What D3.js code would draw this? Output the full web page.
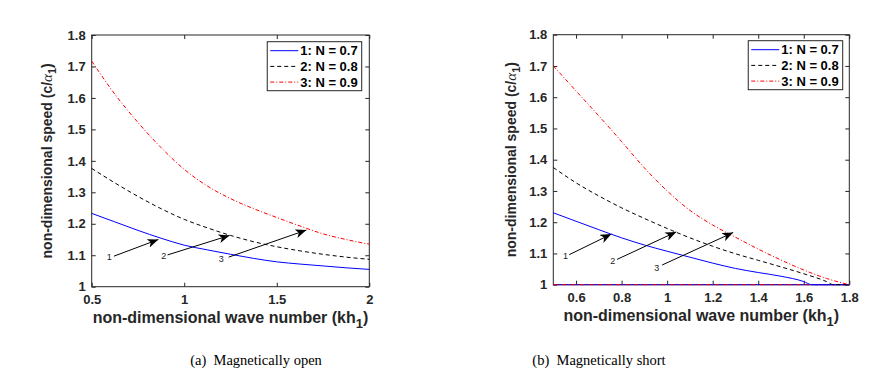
<!DOCTYPE html>
<html>
<head>
<meta charset="utf-8">
<script src="https://cdn.jsdelivr.net/npm/d3@7"></script>
<style>
  body { margin: 0; background: #fff; }
  svg { display: block; }
  .tick text { font-family: "Liberation Sans", Arial, sans-serif; font-weight: bold; font-size: 13px; fill: #262626; }
  .tick line { stroke: #262626; }
  .title { font-family: "Liberation Sans", Arial, sans-serif; font-weight: bold; fill: #262626; }
  .legend text { font-family: "Liberation Sans", Arial, sans-serif; font-weight: bold; font-size: 13px; fill: #000; }
  .caption { font-family: "Liberation Serif", "Times New Roman", serif; font-size: 14.5px; fill: #000; }
  .note { font-family: "Liberation Sans", Arial, sans-serif; font-size: 9px; fill: #222; }
</style>
</head>
<body>
<svg id="chart" width="877" height="378"></svg>
<script>
// ---- data: (a) magnetically open ----
const openX = [0.5, 0.625, 0.75, 0.875, 1.0, 1.125, 1.25, 1.375, 1.5, 1.625, 1.75, 1.875, 2.0];
const openN07 = [1.233, 1.206, 1.179, 1.154, 1.132, 1.117, 1.103, 1.090, 1.079, 1.072, 1.066, 1.060, 1.055];
const openN08 = [1.376, 1.330, 1.287, 1.248, 1.214, 1.187, 1.163, 1.143, 1.127, 1.114, 1.103, 1.094, 1.087];
const openN09 = [1.717, 1.612, 1.522, 1.442, 1.373, 1.320, 1.280, 1.248, 1.220, 1.193, 1.168, 1.150, 1.135];
const openXTicks = [0.5, 1, 1.5, 2];

// ---- data: (b) magnetically short ----
const shortX07 = [0.5, 0.6, 0.7, 0.8, 0.9, 1.0, 1.1, 1.2, 1.3, 1.4, 1.5, 1.6, 1.635, 1.8];
const shortN07 = [1.230, 1.203, 1.176, 1.150, 1.127, 1.107, 1.088, 1.069, 1.052, 1.039, 1.027, 1.010, 1.0, 1.0];
const shortX08 = [0.5, 0.6, 0.7, 0.8, 0.9, 1.0, 1.1, 1.2, 1.3, 1.4, 1.5, 1.6, 1.7, 1.73, 1.8];
const shortN08 = [1.375, 1.326, 1.284, 1.246, 1.212, 1.180, 1.150, 1.123, 1.099, 1.078, 1.057, 1.035, 1.010, 1.0, 1.0];
const shortX09 = [0.5, 0.6, 0.7, 0.8, 0.9, 1.0, 1.1, 1.2, 1.3, 1.4, 1.5, 1.6, 1.7, 1.8];
const shortN09 = [1.700, 1.620, 1.540, 1.458, 1.374, 1.300, 1.238, 1.191, 1.152, 1.114, 1.079, 1.047, 1.020, 1.0];
const floorX = [0.5, 1.8];   // trivial root c/alpha1 = 1 along the bottom
const floorY = [1, 1];
const shortXTicks = [0.6, 0.8, 1, 1.2, 1.4, 1.6, 1.8];

const yTicks = [1, 1.1, 1.2, 1.3, 1.4, 1.5, 1.6, 1.7, 1.8];
const legendNames = ["1: N = 0.7", "2: N = 0.8", "3: N = 0.9"];

// arrows: [label, labelX, labelY, fromX, fromY, toX, toY] in data units
const openArrows = [
  ["1", 0.595, 1.095, 0.62, 1.097, 0.86, 1.150],
  ["2", 0.89, 1.098, 0.91, 1.101, 1.245, 1.163],
  ["3", 1.20, 1.088, 1.24, 1.094, 1.66, 1.180]
];
const shortArrows = [
  ["1", 0.554, 1.092, 0.57, 1.096, 0.755, 1.162],
  ["2", 0.761, 1.076, 0.78, 1.081, 1.04, 1.169],
  ["3", 0.954, 1.055, 0.978, 1.063, 1.29, 1.167]
];

const styles = [
  { color: "#0000ff", dash: null },
  { color: "#000000", dash: "4,3" },
  { color: "#ff0000", dash: "4,2,1,2" }
];

const svg = d3.select("#chart");

svg.append("defs").append("marker")
    .attr("id", "head")
    .attr("markerUnits", "userSpaceOnUse")
    .attr("markerWidth", 12).attr("markerHeight", 9)
    .attr("refX", 11).attr("refY", 4.5)
    .attr("orient", "auto")
  .append("path")
    .attr("d", "M0,0 L11,4.5 L0,9 L3,4.5 Z")
    .attr("fill", "#000");

function drawPanel(p) {
  const x = d3.scaleLinear().domain(p.xDomain).range([p.left, p.right]);
  const y = d3.scaleLinear().domain([1, 1.8]).range([p.bottom, p.top]);
  const g = svg.append("g");
  const fmt = d3.format("~g");

  // ticks on all four sides, pointing inward
  g.append("g").attr("transform", `translate(0,${p.bottom})`)
    .call(d3.axisBottom(x).tickValues(p.xTicks).tickFormat(fmt).tickSizeInner(-4).tickSizeOuter(0).tickPadding(8.5))
    .call(a => a.select(".domain").remove());
  g.append("g").attr("transform", `translate(0,${p.top})`)
    .call(d3.axisTop(x).tickValues(p.xTicks).tickFormat("").tickSizeInner(-4).tickSizeOuter(0))
    .call(a => a.select(".domain").remove());
  g.append("g").attr("transform", `translate(${p.left},0)`)
    .call(d3.axisLeft(y).tickValues(yTicks).tickFormat(fmt).tickSizeInner(-4).tickSizeOuter(0).tickPadding(6))
    .call(a => a.select(".domain").remove());
  g.append("g").attr("transform", `translate(${p.right},0)`)
    .call(d3.axisRight(y).tickValues(yTicks).tickFormat("").tickSizeInner(-4).tickSizeOuter(0))
    .call(a => a.select(".domain").remove());

  g.append("rect")
    .attr("x", p.left).attr("y", p.top)
    .attr("width", p.right - p.left).attr("height", p.bottom - p.top)
    .attr("fill", "none").attr("stroke", "#262626").attr("stroke-width", 1);

  // curves
  const line = d3.line().curve(d3.curveMonotoneX).x(d => x(d[0])).y(d => y(d[1]));
  p.series.forEach(s => {
    const st = styles[s.style];
    g.append("path")
      .datum(d3.zip(s.xs, s.ys))
      .attr("d", line)
      .attr("fill", "none")
      .attr("stroke", st.color)
      .attr("stroke-width", 1)
      .attr("stroke-dasharray", st.dash);
  });

  // arrows
  p.arrows.forEach(a => {
    g.append("line")
      .attr("x1", x(a[3])).attr("y1", y(a[4]))
      .attr("x2", x(a[5])).attr("y2", y(a[6]))
      .attr("stroke", "#000").attr("stroke-width", 1)
      .attr("marker-end", "url(#head)");
    g.append("text").attr("class", "note")
      .attr("x", x(a[1])).attr("y", y(a[2]))
      .attr("text-anchor", "middle").attr("dy", "0.35em")
      .text(a[0]);
  });

  // legend
  const leg = g.append("g").attr("class", "legend");
  const rowH = 15.7;
  const items = legendNames.map(name => leg.append("text").attr("dy", "0.35em").text(name));
  const tw = d3.max(items, t => t.node().getComputedTextLength());
  const boxW = 33 + tw + 4;
  const boxX = p.right - p.legRight - boxW;
  const boxY = p.top + p.legTop;
  const boxH = 49;
  leg.insert("rect", "text")
    .attr("x", boxX).attr("y", boxY).attr("width", boxW).attr("height", boxH)
    .attr("fill", "#fff").attr("stroke", "#262626").attr("stroke-width", 1);
  items.forEach((t, i) => {
    const cy = boxY + 9 + i * rowH;
    t.attr("x", boxX + 33).attr("y", cy);
    leg.append("line")
      .attr("x1", boxX + 3).attr("x2", boxX + 31)
      .attr("y1", cy).attr("y2", cy)
      .attr("stroke", styles[i].color).attr("stroke-width", 1)
      .attr("stroke-dasharray", styles[i].dash);
  });

  // axis titles
  const xt = g.append("text").attr("class", "title")
    .style("font-size", "16px")
    .attr("x", (p.left + p.right) / 2).attr("y", p.bottom + 36)
    .attr("text-anchor", "middle");
  xt.append("tspan").text("non-dimensional wave number (kh");
  xt.append("tspan").attr("dy", 5).style("font-size", "13px").text("1");
  xt.append("tspan").attr("dy", -5).text(")");

  const yt = g.append("text").attr("class", "title")
    .style("font-size", "14px")
    .attr("transform", `translate(${p.left - p.yTitleOff},${(p.top + p.bottom) / 2}) rotate(-90)`)
    .attr("text-anchor", "middle");
  yt.append("tspan").text("non-dimensional speed (c/");
  yt.append("tspan").style("font-style", "italic").style("font-weight", "normal")
    .style("font-family", "'Liberation Serif', serif").style("font-size", "15px").text("α");
  yt.append("tspan").attr("dy", 4).style("font-size", "11px").text("1");
  yt.append("tspan").attr("dy", -4).text(")");

  // caption
  svg.append("text").attr("class", "caption")
    .attr("x", p.capX).attr("y", 365)
    .attr("text-anchor", "middle")
    .attr("xml:space", "preserve")
    .text(p.caption);
}

drawPanel({
  left: 91.7, right: 369.3, top: 35, bottom: 286.7,
  xDomain: [0.5, 2], xTicks: openXTicks,
  series: [
    { xs: openX, ys: openN07, style: 0 },
    { xs: openX, ys: openN08, style: 1 },
    { xs: openX, ys: openN09, style: 2 }
  ],
  arrows: openArrows,
  legRight: 7.6, legTop: 6.7, yTitleOff: 40,
  caption: "(a)  Magnetically open", capX: 256
});

drawPanel({
  left: 553.3, right: 849.3, top: 34.7, bottom: 284.7,
  xDomain: [0.5, 1.8], xTicks: shortXTicks,
  series: [
    { xs: floorX, ys: floorY, style: 0 },
    { xs: floorX, ys: floorY, style: 2 },
    { xs: shortX07, ys: shortN07, style: 0 },
    { xs: shortX08, ys: shortN08, style: 1 },
    { xs: shortX09, ys: shortN09, style: 2 }
  ],
  arrows: shortArrows,
  legRight: 6.6, legTop: 6, yTitleOff: 37,
  caption: "(b)  Magnetically short", capX: 599
});
</script>
</body>
</html>
